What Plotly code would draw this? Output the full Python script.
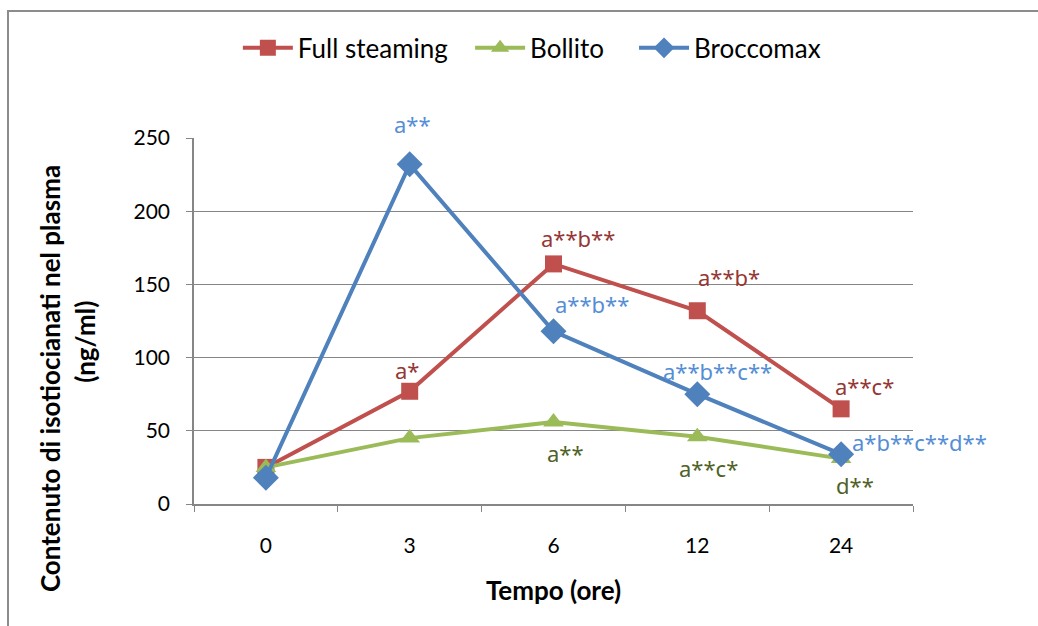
import plotly.graph_objects as go

# Time points (hours) and plasma isothiocyanate content (ng/ml)
tempo = ["0", "3", "6", "12", "24"]
full_steaming = [25, 77, 164, 132, 65]
bollito = [25, 45, 56, 46, 31]
broccomax = [18, 232, 118, 75, 34]

# Significance labels per point ("" = no label)
lab_full = ["", "a*", "a**b**", "a**b*", "a**c*"]
lab_boll = ["", "", "a**", "a**c*", "d**"]
lab_brocco = ["", "a**", "a**b**", "a**b**c**", "a*b**c**d**"]

y_ticks = [0, 50, 100, 150, 200, 250]

FONT = "Lato, Calibri, Carlito, sans-serif"
LABEL_FONT = "Noto Sans, Calibri, sans-serif"
RED, GREEN, BLUE = "#C0504D", "#9BBB59", "#4F81BD"
RED_T, GREEN_T, BLUE_T = "#953735", "#4F6228", "#558ED5"

fig = go.Figure()
fig.add_trace(go.Scatter(
    x=tempo, y=full_steaming, name="Full steaming", mode="lines+markers",
    line=dict(color=RED, width=4), legend="legend",
    marker=dict(symbol="square", size=17, color=RED)))
fig.add_trace(go.Scatter(
    x=tempo, y=bollito, name="Bollito", mode="lines+markers",
    line=dict(color=GREEN, width=4), legend="legend2",
    marker=dict(symbol="triangle-up", size=18, color=GREEN)))
fig.add_trace(go.Scatter(
    x=tempo, y=broccomax, name="Broccomax", mode="lines+markers",
    line=dict(color=BLUE, width=4), legend="legend3",
    marker=dict(symbol="diamond", size=20, color=BLUE)))

# pixel offsets (dx, dy, anchor) of each label relative to its marker
offsets_full = {1: (-3, 21, "center"), 2: (24, 26, "center"),
                3: (32, 34, "center"), 4: (23, 23, "center")}
offsets_boll = {2: (12, -31, "center"), 3: (11, -31, "center"),
                4: (14, -26, "center")}
offsets_brocco = {1: (3, 40, "center"), 2: (38, 27, "center"),
                  3: (20, 23, "center"), 4: (9, 12, "left")}

annotations = []


def add_labels(values, labels, color, offsets):
    # category axes place annotations by category index
    for i, (yv, txt) in enumerate(zip(values, labels)):
        if not txt:
            continue
        xs, ys, xa = offsets[i]
        annotations.append(dict(
            x=i, y=yv, xref="x", yref="y", text=txt, showarrow=False,
            xshift=xs, yshift=ys, xanchor=xa, yanchor="middle",
            font=dict(family=LABEL_FONT, size=22, color=color)))


add_labels(full_steaming, lab_full, RED_T, offsets_full)
add_labels(bollito, lab_boll, GREEN_T, offsets_boll)
add_labels(broccomax, lab_brocco, BLUE_T, offsets_brocco)

# two-line vertical axis title
annotations.append(dict(
    text="<b>Contenuto di isotiocianati nel plasma</b>", textangle=-90,
    xref="paper", yref="paper", x=-0.2003, y=0.344,
    xanchor="center", yanchor="middle", showarrow=False,
    font=dict(family=FONT, size=26, color="black")))
annotations.append(dict(
    text="<b>(ng/ml)</b>", textangle=-90,
    xref="paper", yref="paper", x=-0.1516, y=0.443,
    xanchor="center", yanchor="middle", showarrow=False,
    font=dict(family=FONT, size=26, color="black")))

legend_style = dict(orientation="h", y=1.246, xanchor="left",
                    yanchor="middle", font=dict(family=FONT, size=26),
                    itemwidth=50, bgcolor="rgba(0,0,0,0)")

fig.update_layout(
    width=1038, height=626,
    margin=dict(l=194, r=125, t=138, b=122),
    paper_bgcolor="white", plot_bgcolor="white",
    font=dict(family=FONT, size=21, color="black"),
    showlegend=True,
    legend=dict(x=0.061, **legend_style),
    legend2=dict(x=0.384, **legend_style),
    legend3=dict(x=0.612, **legend_style),
    annotations=annotations,
    shapes=[dict(type="rect", xref="paper", yref="paper",
                 x0=-0.2587, x1=1.5, y0=-0.5, y1=1.347,
                 line=dict(color="#8C8C8C", width=2),
                 fillcolor="rgba(0,0,0,0)", layer="below")],
)

fig.update_xaxes(
    type="category", range=[-0.5, 4.5],
    showline=True, linecolor="#868686", linewidth=1.5,
    showgrid=False, ticks="outside", tickson="boundaries",
    ticklen=6, tickcolor="#868686", ticklabelstandoff=22,
    tickfont=dict(family=FONT, size=21),
    title=dict(text="<b>Tempo (ore)</b>", font=dict(family=FONT, size=26),
               standoff=26),
)
fig.update_yaxes(
    range=[0, 250], tickvals=y_ticks,
    showline=True, linecolor="#868686", linewidth=1.5,
    showgrid=True, gridcolor="#868686", gridwidth=1.3,
    zeroline=False, ticks="outside", ticklen=6, tickcolor="#868686",
    ticklabelstandoff=12,
    tickfont=dict(family=FONT, size=21),
)

fig.write_html("out.html")
